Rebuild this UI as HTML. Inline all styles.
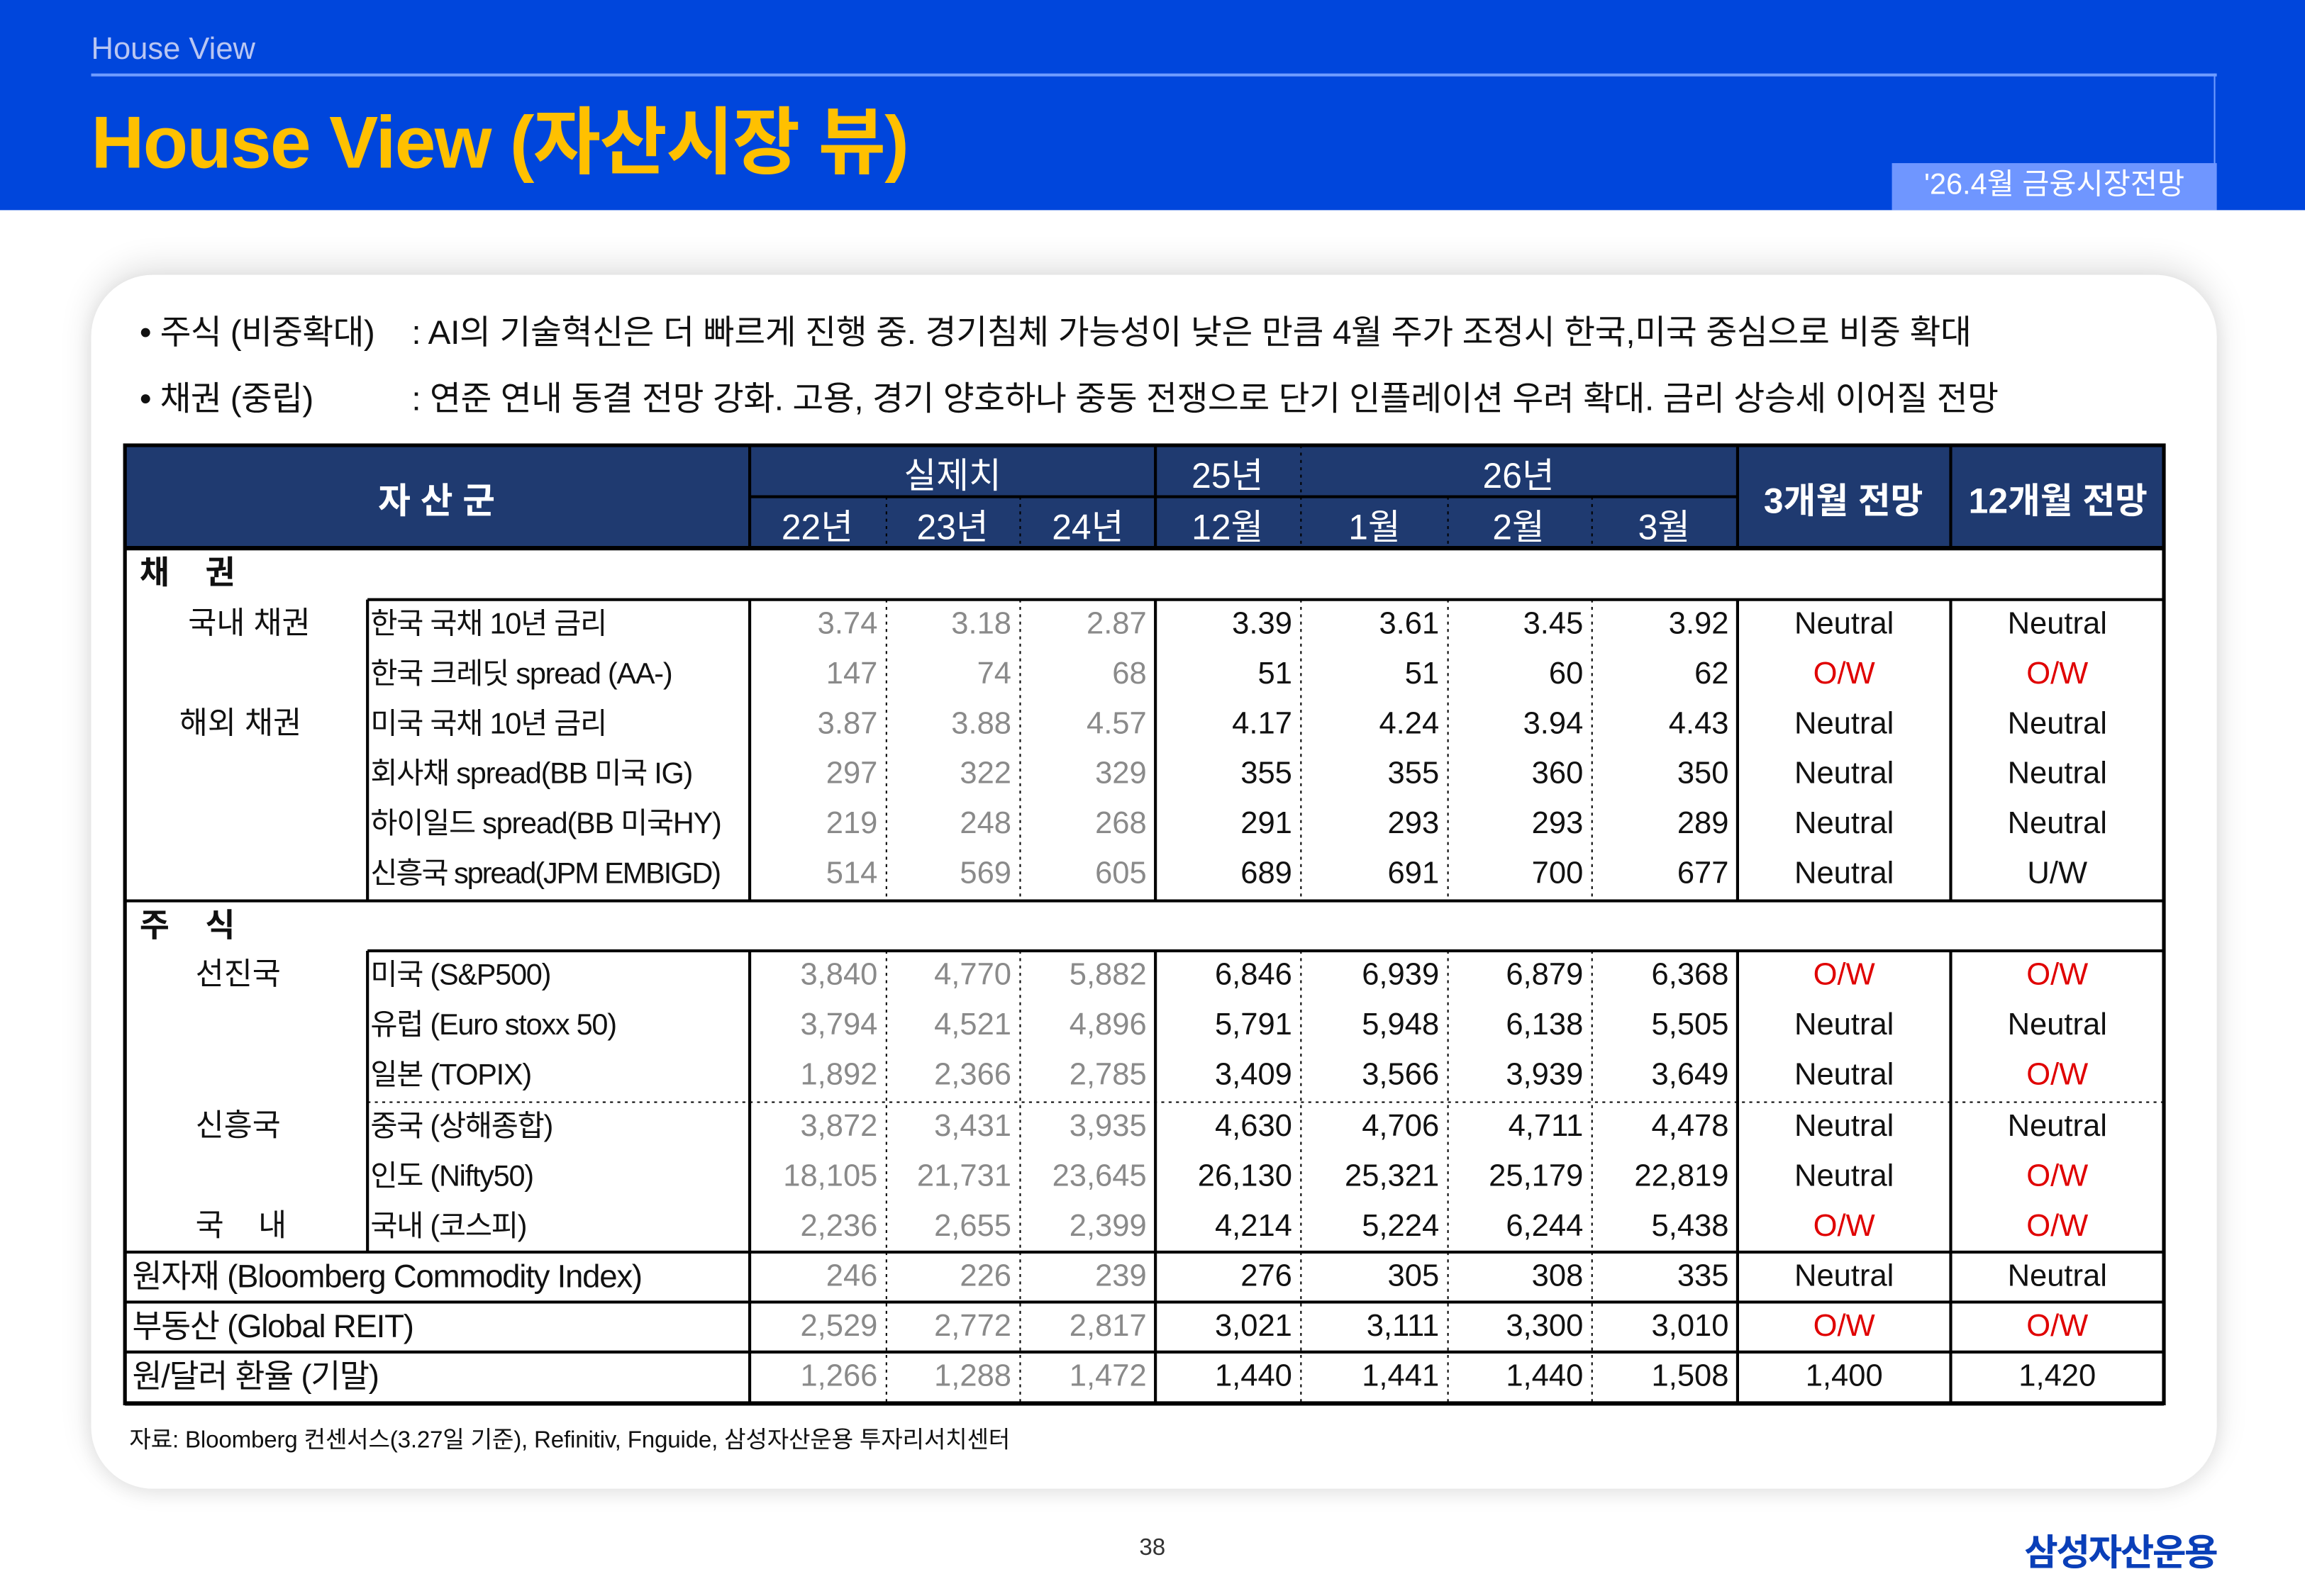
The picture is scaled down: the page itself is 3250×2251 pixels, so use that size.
<!DOCTYPE html>
<html><head><meta charset="utf-8"><style>
html,body{margin:0;padding:0;background:#fff;}
body{width:3250px;height:2250px;overflow:hidden;position:relative;}
#w{position:absolute;left:0;top:0;width:1568px;height:1086px;transform:scale(2.07270);transform-origin:0 0;font-family:"Liberation Sans","Noto Sans CJK KR",sans-serif;color:#111;}
.a{position:absolute;white-space:nowrap;}
.row{position:absolute;left:510px;width:962px;height:34px;display:flex;font-size:21px;line-height:34px;}
.row span{display:block;text-align:right;padding-right:6px;box-sizing:border-box;}
.row span:nth-child(1){width:93px;color:#8a8a8a}
.row span:nth-child(2){width:91px;color:#8a8a8a}
.row span:nth-child(3){width:92px;color:#8a8a8a}
.row span:nth-child(4){width:99px}
.row span:nth-child(5){width:100px}
.row span:nth-child(6){width:98px}
.row span:nth-child(7){width:99px}
.row span:nth-child(8),.row span:nth-child(9){width:145px;text-align:center;padding:0}
.rd{color:#e00000}
.nm{position:absolute;left:252px;height:34px;line-height:34px;font-size:20px;letter-spacing:-0.6px;white-space:nowrap}
.cat{position:absolute;height:34px;line-height:34px;font-size:21px;white-space:nowrap}
.h{position:absolute;color:#fff;font-size:24px;text-align:center;white-space:nowrap;transform:translateX(-50%);}
</style></head><body><div id="w">
<div class="a" style="left:0;top:0;width:1568px;height:143px;background:#0046dc"></div>
<div class="a" style="left:62px;top:22px;font-size:21px;color:#b9c6f2">House View</div>
<div class="a" style="left:62px;top:50px;width:1446px;height:2px;background:#6f9cff"></div>
<div class="a" style="left:1506px;top:50px;width:1px;height:62px;background:#6f9cff"></div>
<div class="a" style="left:62px;top:57px;font-size:50px;font-weight:bold;color:#ffc000;letter-spacing:-0.8px">House View (자산시장 뷰)</div>
<div class="a" style="left:1287px;top:111px;width:221px;height:32px;background:#6f96ff;color:#fff;font-size:20px;line-height:30px;text-align:center">'26.4월 금융시장전망</div>
<div class="a" style="left:62px;top:187px;width:1446px;height:826px;border-radius:42px;background:#fff;box-shadow:0 -6px 22px rgba(0,0,0,0.12),0 4px 14px rgba(0,0,0,0.08)"></div>
<div class="a" style="left:95px;top:207px;font-size:23px;letter-spacing:-0.3px">• 주식 (비중확대)</div>
<div class="a" style="left:280px;top:207px;font-size:23px;letter-spacing:-0.15px">: AI의 기술혁신은 더 빠르게 진행 중. 경기침체 가능성이 낮은 만큼 4월 주가 조정시 한국,미국 중심으로 비중 확대</div>
<div class="a" style="left:95px;top:252px;font-size:23px;letter-spacing:-0.3px">• 채권 (중립)</div>
<div class="a" style="left:280px;top:252px;font-size:23px;letter-spacing:-0.2px">: 연준 연내 동결 전망 강화. 고용, 경기 양호하나 중동 전쟁으로 단기 인플레이션 우려 확대. 금리 상승세 이어질 전망</div>

<div class="a" style="left:85px;top:303px;width:1387px;height:70px;background:#1f3a70"></div>
<svg class="a" style="left:0;top:0" width="1568" height="1086">
<g stroke="#000" stroke-width="2" fill="none">
<rect x="85" y="303" width="1387" height="652" stroke-width="2.5"/>
<line x1="85" y1="373" x2="1472" y2="373" stroke-width="3"/>
<line x1="510" y1="338" x2="1182" y2="338"/>
<line x1="510" y1="303" x2="510" y2="373"/><line x1="786" y1="303" x2="786" y2="373"/>
<line x1="1182" y1="303" x2="1182" y2="373"/><line x1="1327" y1="303" x2="1327" y2="373"/>
<line x1="250" y1="408" x2="1472" y2="408"/>
<line x1="85" y1="613" x2="1472" y2="613"/>
<line x1="250" y1="647" x2="1472" y2="647"/>
<line x1="85" y1="852" x2="1472" y2="852"/>
<line x1="85" y1="886" x2="1472" y2="886"/>
<line x1="85" y1="920" x2="1472" y2="920"/>
<line x1="85" y1="955" x2="1472" y2="955" stroke-width="3"/>
<line x1="250" y1="408" x2="250" y2="613"/><line x1="250" y1="647" x2="250" y2="852"/>
<line x1="510" y1="408" x2="510" y2="613"/><line x1="510" y1="647" x2="510" y2="955"/>
<line x1="786" y1="408" x2="786" y2="613"/><line x1="786" y1="647" x2="786" y2="955"/>
<line x1="1182" y1="408" x2="1182" y2="613"/><line x1="1182" y1="647" x2="1182" y2="955"/>
<line x1="1327" y1="408" x2="1327" y2="613"/><line x1="1327" y1="647" x2="1327" y2="955"/>
</g>
<g stroke="#000" stroke-width="1" stroke-dasharray="2,3" fill="none">
<line x1="885" y1="303" x2="885" y2="373"/>
<line x1="603" y1="338" x2="603" y2="373"/><line x1="694" y1="338" x2="694" y2="373"/>
<line x1="985" y1="338" x2="985" y2="373"/><line x1="1083" y1="338" x2="1083" y2="373"/>
<line x1="603" y1="408" x2="603" y2="613"/><line x1="694" y1="408" x2="694" y2="613"/>
<line x1="885" y1="408" x2="885" y2="613"/><line x1="985" y1="408" x2="985" y2="613"/><line x1="1083" y1="408" x2="1083" y2="613"/>
<line x1="603" y1="647" x2="603" y2="955"/><line x1="694" y1="647" x2="694" y2="955"/>
<line x1="885" y1="647" x2="885" y2="955"/><line x1="985" y1="647" x2="985" y2="955"/><line x1="1083" y1="647" x2="1083" y2="955"/>
<line x1="250" y1="750" x2="1472" y2="750"/>
</g>
</svg>
<div class="h" style="left:297px;top:321px;font-weight:bold">자 산 군</div>
<div class="h" style="left:648px;top:304px">실제치</div>
<div class="h" style="left:835px;top:304px">25년</div>
<div class="h" style="left:1033px;top:304px">26년</div>
<div class="h" style="left:556px;top:339px">22년</div>
<div class="h" style="left:648px;top:339px">23년</div>
<div class="h" style="left:740px;top:339px">24년</div>
<div class="h" style="left:835px;top:339px">12월</div>
<div class="h" style="left:935px;top:339px">1월</div>
<div class="h" style="left:1033px;top:339px">2월</div>
<div class="h" style="left:1132px;top:339px">3월</div>
<div class="h" style="left:1254px;top:321px;font-weight:bold">3개월 전망</div>
<div class="h" style="left:1400px;top:321px;font-weight:bold">12개월 전망</div>

<div class="cat" style="left:95px;top:373px;font-size:22px;font-weight:bold">채&nbsp;&nbsp;&nbsp;&nbsp;권</div>
<div class="cat" style="left:128px;top:408px">국내 채권</div>
<div class="cat" style="left:122px;top:476px">해외 채권</div>
<div class="cat" style="left:95px;top:613px;font-size:22px;font-weight:bold">주&nbsp;&nbsp;&nbsp;&nbsp;식</div>
<div class="cat" style="left:133px;top:647px">선진국</div>
<div class="cat" style="left:133px;top:750px">신흥국</div>
<div class="cat" style="left:133px;top:818px">국&nbsp;&nbsp;&nbsp;&nbsp;내</div>
<div class="nm" style="left:90px;top:852px;font-size:22px">원자재 (Bloomberg Commodity Index)</div>
<div class="nm" style="left:90px;top:886px;font-size:22px">부동산 (Global REIT)</div>
<div class="nm" style="left:90px;top:920px;font-size:22px">원/달러 환율 (기말)</div>

<div class="nm" style="top:408px">한국 국채 10년 금리</div>
<div class="nm" style="top:442px">한국 크레딧 spread (AA-)</div>
<div class="nm" style="top:476px">미국 국채 10년 금리</div>
<div class="nm" style="top:510px">회사채 spread(BB 미국 IG)</div>
<div class="nm" style="top:544px">하이일드 spread(BB 미국HY)</div>
<div class="nm" style="top:578px;letter-spacing:-1px">신흥국 spread(JPM EMBIGD)</div>
<div class="nm" style="top:647px">미국 (S&amp;P500)</div>
<div class="nm" style="top:681px">유럽 (Euro stoxx 50)</div>
<div class="nm" style="top:715px">일본 (TOPIX)</div>
<div class="nm" style="top:750px">중국 (상해종합)</div>
<div class="nm" style="top:784px">인도 (Nifty50)</div>
<div class="nm" style="top:818px">국내 (코스피)</div>

<div class="row" style="top:408px"><span>3.74</span><span>3.18</span><span>2.87</span><span>3.39</span><span>3.61</span><span>3.45</span><span>3.92</span><span>Neutral</span><span>Neutral</span></div>
<div class="row" style="top:442px"><span>147</span><span>74</span><span>68</span><span>51</span><span>51</span><span>60</span><span>62</span><span class="rd">O/W</span><span class="rd">O/W</span></div>
<div class="row" style="top:476px"><span>3.87</span><span>3.88</span><span>4.57</span><span>4.17</span><span>4.24</span><span>3.94</span><span>4.43</span><span>Neutral</span><span>Neutral</span></div>
<div class="row" style="top:510px"><span>297</span><span>322</span><span>329</span><span>355</span><span>355</span><span>360</span><span>350</span><span>Neutral</span><span>Neutral</span></div>
<div class="row" style="top:544px"><span>219</span><span>248</span><span>268</span><span>291</span><span>293</span><span>293</span><span>289</span><span>Neutral</span><span>Neutral</span></div>
<div class="row" style="top:578px"><span>514</span><span>569</span><span>605</span><span>689</span><span>691</span><span>700</span><span>677</span><span>Neutral</span><span>U/W</span></div>
<div class="row" style="top:647px"><span>3,840</span><span>4,770</span><span>5,882</span><span>6,846</span><span>6,939</span><span>6,879</span><span>6,368</span><span class="rd">O/W</span><span class="rd">O/W</span></div>
<div class="row" style="top:681px"><span>3,794</span><span>4,521</span><span>4,896</span><span>5,791</span><span>5,948</span><span>6,138</span><span>5,505</span><span>Neutral</span><span>Neutral</span></div>
<div class="row" style="top:715px"><span>1,892</span><span>2,366</span><span>2,785</span><span>3,409</span><span>3,566</span><span>3,939</span><span>3,649</span><span>Neutral</span><span class="rd">O/W</span></div>
<div class="row" style="top:750px"><span>3,872</span><span>3,431</span><span>3,935</span><span>4,630</span><span>4,706</span><span>4,711</span><span>4,478</span><span>Neutral</span><span>Neutral</span></div>
<div class="row" style="top:784px"><span>18,105</span><span>21,731</span><span>23,645</span><span>26,130</span><span>25,321</span><span>25,179</span><span>22,819</span><span>Neutral</span><span class="rd">O/W</span></div>
<div class="row" style="top:818px"><span>2,236</span><span>2,655</span><span>2,399</span><span>4,214</span><span>5,224</span><span>6,244</span><span>5,438</span><span class="rd">O/W</span><span class="rd">O/W</span></div>
<div class="row" style="top:852px"><span>246</span><span>226</span><span>239</span><span>276</span><span>305</span><span>308</span><span>335</span><span>Neutral</span><span>Neutral</span></div>
<div class="row" style="top:886px"><span>2,529</span><span>2,772</span><span>2,817</span><span>3,021</span><span>3,111</span><span>3,300</span><span>3,010</span><span class="rd">O/W</span><span class="rd">O/W</span></div>
<div class="row" style="top:920px"><span>1,266</span><span>1,288</span><span>1,472</span><span>1,440</span><span>1,441</span><span>1,440</span><span>1,508</span><span>1,400</span><span>1,420</span></div>

<div class="a" style="left:88px;top:966px;font-size:16px;letter-spacing:-0.1px">자료: Bloomberg 컨센서스(3.27일 기준), Refinitiv, Fnguide, 삼성자산운용 투자리서치센터</div>
<div class="a" style="left:775px;top:1045px;font-size:16px;color:#333">38</div>
<div class="a" style="left:1377px;top:1037px;font-size:25px;font-weight:bold;color:#0a3fb8;letter-spacing:-1.2px">삼성자산운용</div>
</div></body></html>
